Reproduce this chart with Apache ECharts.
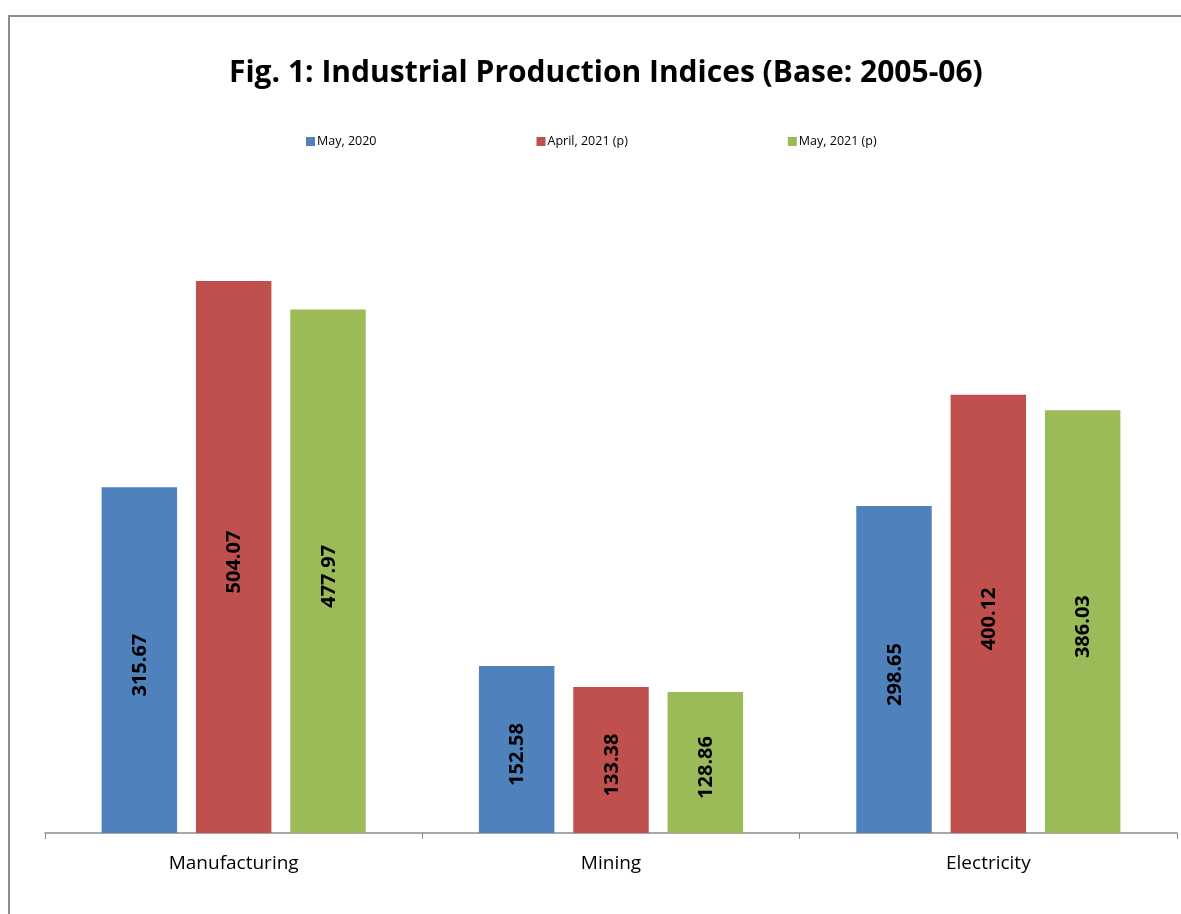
<!DOCTYPE html>
<html><head><meta charset="utf-8">
<script src="https://cdn.jsdelivr.net/npm/echarts@6/dist/echarts.min.js"></script>
<style>html,body{margin:0;padding:0;background:#fff}#c{width:1181px;height:914px}</style>
</head><body><div id="c"></div>
<script>
const categories = ['Manufacturing', 'Mining', 'Electricity'];
const seriesNames = ['May, 2020', 'April, 2021 (p)', 'May, 2021 (p)'];
const may2020 = [315.67, 152.58, 298.65];
const apr2021 = [504.07, 133.38, 400.12];
const may2021 = [477.97, 128.86, 386.03];
const colors = ['#4F81BD', '#C0504D', '#9BBB59'];
const values = [may2020, apr2021, may2021];

const chart = echarts.init(document.getElementById('c'));
chart.setOption({
  animation: false,
  backgroundColor: '#fff',
  title: {
    text: 'Fig. 1: Industrial Production Indices (Base: 2005-06)',
    left: 224, top: 53,
    textStyle: { fontFamily: 'Open Sans', fontWeight: 'bold', fontSize: 30, color: '#000' }
  },
  legend: {
    left: 301, top: 130, itemWidth: 9, itemHeight: 9, itemGap: 160,
    icon: 'rect',
    textStyle: { fontFamily: 'Open Sans', fontSize: 12.5, color: '#000', padding: [0, 0, 0, -3] },
    data: seriesNames
  },
  graphic: [{
    type: 'rect', shape: { x: 9, y: 16, width: 1300, height: 1000 },
    style: { fill: 'none', stroke: '#8c8c8c', lineWidth: 2 }, z: -1
  }],
  grid: { left: 45, right: 4, top: 176, bottom: 81 },
  xAxis: {
    type: 'category', data: categories,
    axisLine: { lineStyle: { color: '#8c8c8c', width: 1.5 } },
    axisTick: { show: true, length: 6, lineStyle: { color: '#8c8c8c' } },
    axisLabel: { fontFamily: 'Open Sans', fontSize: 19, color: '#000', margin: 21 }
  },
  yAxis: { type: 'value', min: 0, max: 600, show: false, splitLine: { show: false } },
  series: seriesNames.map((n, i) => ({
    name: n, type: 'bar', data: values[i],
    barGap: '25%', barCategoryGap: '30%',
    itemStyle: { color: colors[i] },
    label: {
      show: true, position: 'inside', offset: [-5, 1], rotate: 90, formatter: p => p.value.toFixed(2),
      fontFamily: 'Open Sans', fontWeight: 'bold', fontSize: 20, color: '#000'
    }
  }))
});
</script></body></html>
